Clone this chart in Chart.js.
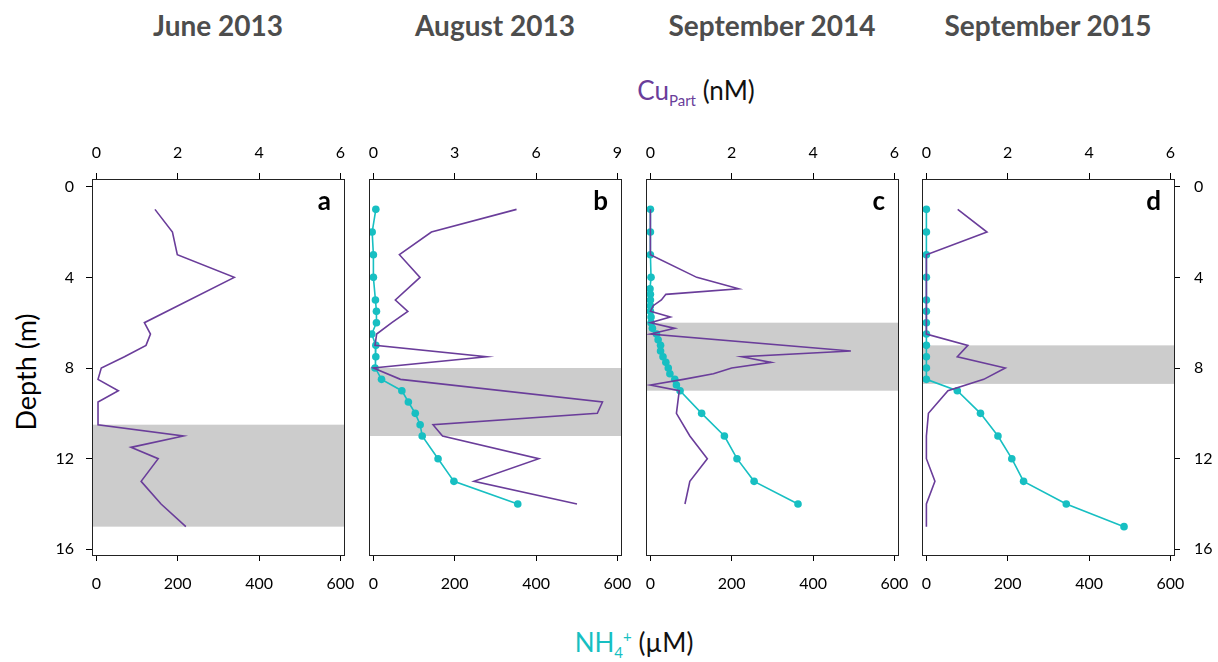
<!DOCTYPE html>
<html>
<head>
<meta charset="utf-8">
<script src="https://cdn.jsdelivr.net/npm/chart.js@4.4.1/dist/chart.umd.min.js"></script>
<style>
html,body{margin:0;padding:0;background:#fff;}
body{width:1218px;height:662px;position:relative;overflow:hidden;font-family:Lato,"Open Sans",sans-serif;}
canvas{position:absolute;top:120px;}
.title{position:absolute;top:8px;width:300px;text-align:center;font-weight:700;font-size:28px;color:#4d4d4d;line-height:34px;}
.lbl{position:absolute;font-size:26px;color:#111;white-space:nowrap;line-height:30px;text-align:center;width:300px;}
.lbl sub,.lbl sup{font-size:15px;line-height:0;}
#depth{position:absolute;left:25px;top:372px;transform:translate(-50%,-50%) rotate(-90deg);font-size:27px;color:#000;white-space:nowrap;}
</style>
</head>
<body>
<div class="title" style="left:68px">June 2013</div>
<div class="title" style="left:345px">August 2013</div>
<div class="title" style="left:622px">September 2014</div>
<div class="title" style="left:898px">September 2015</div>
<div class="lbl" style="left:546px;top:75px"><span style="color:#6a3d9a">Cu<sub>Part</sub></span> (nM)</div>
<div class="lbl" style="left:484px;top:627px"><span style="color:#17bfc2">NH<sub>4</sub><sup>+</sup></span> (µM)</div>
<div id="depth">Depth (m)</div>
<canvas id="ca" width="372" height="490" style="left:32px"></canvas>
<canvas id="cb" width="372" height="490" style="left:309px"></canvas>
<canvas id="cc" width="372" height="490" style="left:586px"></canvas>
<canvas id="cd" width="372" height="490" style="left:862px"></canvas>
<script>
// ---------- data ----------
const panelLetters = ['a', 'b', 'c', 'd'];
const depthTicks = [0, 4, 8, 12, 16];
const nhTicks = [0, 200, 400, 600];
const cuTicksA = [0, 2, 4, 6];
const cuTicksB = [0, 3, 6, 9];
const cuTicksC = [0, 2, 4, 6];
const cuTicksD = [0, 2, 4, 6];

// June 2013
const cuDepthA = [1, 2, 3, 4, 6, 6.5, 7, 7.5, 8, 8.5, 9, 9.5, 10.5, 11, 11.5, 12, 13, 14, 15];
const cuA = [1.44, 1.87, 1.99, 3.39, 1.18, 1.33, 1.22, 0.69, 0.12, 0.04, 0.54, 0.04, 0.04, 2.14, 0.85, 1.52, 1.10, 1.59, 2.2];
const bandA = [10.5, 15];

// August 2013
const cuDepthB = [1, 2, 3, 4, 5, 5.5, 6, 6.5, 7, 7.5, 8, 8.5, 9.5, 10, 10.5, 11, 12, 13, 14];
const cuB = [5.28, 2.14, 0.96, 1.72, 0.81, 1.27, 0.68, 0.12, 0.06, 4.17, 0.0, 1.0, 8.45, 8.26, 2.2, 2.55, 6.1, 3.71, 7.51];
const nhDepthB = [1, 2, 3, 4, 5, 5.5, 6, 6.5, 7, 7.5, 8, 8.5, 9, 9.5, 10, 10.5, 11, 12, 13, 14];
const nhB = [6, -3, 0, 0, 5, 7.5, 7.5, -4, 6, 6, 4, 20, 70, 86, 103, 115, 120, 159, 198, 355];
const bandB = [8, 11];

// September 2014
const cuDepthC = [1, 2, 3, 4, 4.5, 4.75, 5, 5.25, 5.5, 5.75, 6, 6.25, 6.5, 7.25, 7.5, 7.75, 8, 8.25, 8.5, 8.75, 9, 10, 11, 12, 13, 14];
const cuC = [0, 0, 0, 1.14, 2.17, 0.38, 0.27, 0.07, 0, 0.49, 0, 0.6, 0, 4.93, 2.25, 2.97, 2.0, 1.55, 0.81, 0, 0.71, 0.64, 0.97, 1.4, 0.97, 0.85];
const nhDepthC = [1, 2, 3, 4, 4.5, 4.75, 5, 5.25, 5.5, 5.75, 6, 6.25, 6.5, 6.75, 7, 7.25, 7.5, 7.75, 8, 8.25, 8.5, 8.75, 9, 10, 11, 12, 13, 14];
const nhC = [0, 0, 0, 1.6, -1, 0, 0, 0, 0, 1.6, 1.6, 5, 15, 19, 25, 25, 31, 38, 44, 48, 60, 64, 73, 126, 182, 213, 255, 363];
const bandC = [6, 9];

// September 2015
const cuDepthD = [1, 2, 3, 4, 5, 5.5, 6, 6.5, 7, 7.5, 8, 8.5, 9, 10, 11, 12, 13, 14, 15];
const cuD = [0.77, 1.49, 0, 0, 0, 0, 0, 0, 1.02, 0.76, 1.94, 1.41, 0.53, 0.05, 0, 0, 0.21, 0, 0];
const nhDepthD = [1, 2, 3, 4, 5, 5.5, 6, 6.5, 7, 7.5, 8, 8.5, 9, 10, 11, 12, 13, 14, 15];
const nhD = [0, 0, 0, 0, 0, 0, 0, 0, 0, 0, 0, 0, 76, 133, 176, 210, 239, 344, 486];
const bandD = [7, 8.7];

// ---------- styling ----------
const PURPLE = '#6a3d9a';
const TEAL = '#17bfc2';
const BAND = '#cccccc';
const TICKFONT = {family: 'Lato, "Open Sans", sans-serif', size: 16};

function pts(xs, ds) { return ds.map((d, i) => ({x: xs[i], y: d})); }

function rangeFor(ticks) {
  const r = ticks[ticks.length - 1] - ticks[0];
  return {min: ticks[0] - 0.018 * r, max: ticks[ticks.length - 1] + 0.0148 * r};
}

function gridOpts() {
  return {display: true, drawOnChartArea: false, drawTicks: true, tickLength: 6, color: '#000', lineWidth: 1};
}

function makePanel(canvasId, letter, cuTicks, cuDepth, cu, nhDepth, nh, band, yMode) {
  const datasets = [{
    data: pts(cu, cuDepth), xAxisID: 'x2', yAxisID: 'y', showLine: true,
    borderColor: PURPLE, backgroundColor: PURPLE, borderWidth: 1.6, pointRadius: 0, order: 0
  }];
  if (nh) {
    datasets.push({
      data: pts(nh, nhDepth), xAxisID: 'x', yAxisID: 'y', showLine: true,
      borderColor: TEAL, backgroundColor: TEAL, borderWidth: 1.6,
      pointRadius: 3.8, pointBorderWidth: 0, order: 1
    });
  }
  const nhR = rangeFor(nhTicks);
  const cuR = rangeFor(cuTicks);
  const panelPlugin = {
    id: 'panelDeco' + letter,
    beforeDatasetsDraw(chart) {
      const {ctx, chartArea: a, scales} = chart;
      const y0 = scales.y.getPixelForValue(band[0]);
      const y1 = scales.y.getPixelForValue(band[1]);
      ctx.save();
      ctx.fillStyle = BAND;
      ctx.fillRect(a.left, y0, a.right - a.left, y1 - y0);
      ctx.restore();
    },
    afterDraw(chart) {
      const {ctx, chartArea: a} = chart;
      ctx.save();
      ctx.strokeStyle = '#222';
      ctx.lineWidth = 1;
      ctx.strokeRect(Math.round(a.left) + 0.5, Math.round(a.top) + 0.5,
        Math.round(a.right - a.left), Math.round(a.bottom - a.top));
      ctx.fillStyle = '#000';
      ctx.font = 'bold 26px Lato, "Open Sans", sans-serif';
      ctx.textAlign = 'right';
      ctx.textBaseline = 'alphabetic';
      ctx.fillText(letter, a.right - 13, a.top + 31);
      ctx.restore();
    }
  };
  const showY = yMode !== 'none';
  return new Chart(document.getElementById(canvasId), {
    type: 'scatter',
    data: {datasets},
    options: {
      responsive: false, animation: false, devicePixelRatio: 1,
      layout: {padding: {left: yMode === 'left' ? 0 : 60, right: yMode === 'right' ? 0 : 60, top: 0, bottom: 0}},
      plugins: {legend: {display: false}, tooltip: {enabled: false}},
      scales: {
        x: {
          type: 'linear', position: 'bottom', min: nhR.min, max: nhR.max,
          afterBuildTicks: s => { s.ticks = nhTicks.map(v => ({value: v})); },
          afterFit: s => { s.height = 55; s.paddingLeft = 0; s.paddingRight = 0; },
          grid: gridOpts(), border: {display: false},
          ticks: {font: TICKFONT, color: '#000', padding: 13, maxRotation: 0, autoSkip: false}
        },
        x2: {
          type: 'linear', position: 'top', min: cuR.min, max: cuR.max,
          afterBuildTicks: s => { s.ticks = cuTicks.map(v => ({value: v})); },
          afterFit: s => { s.height = 59; s.paddingLeft = 0; s.paddingRight = 0; },
          grid: gridOpts(), border: {display: false},
          ticks: {font: TICKFONT, color: '#000', padding: 11, maxRotation: 0, autoSkip: false}
        },
        y: {
          type: 'linear', display: showY, position: yMode === 'right' ? 'right' : 'left',
          reverse: true, min: -0.34, max: 16.25,
          afterBuildTicks: s => { s.ticks = depthTicks.map(v => ({value: v})); },
          afterFit: s => { s.width = showY ? 60 : 0; s.paddingTop = 0; s.paddingBottom = 0; },
          grid: gridOpts(), border: {display: false},
          ticks: {font: TICKFONT, color: '#000', padding: yMode === 'right' ? 14 : 12, autoSkip: false}
        }
      }
    },
    plugins: [panelPlugin]
  });
}

makePanel('ca', panelLetters[0], cuTicksA, cuDepthA, cuA, null, null, bandA, 'left');
makePanel('cb', panelLetters[1], cuTicksB, cuDepthB, cuB, nhDepthB, nhB, bandB, 'none');
makePanel('cc', panelLetters[2], cuTicksC, cuDepthC, cuC, nhDepthC, nhC, bandC, 'none');
makePanel('cd', panelLetters[3], cuTicksD, cuDepthD, cuD, nhDepthD, nhD, bandD, 'right');
</script>
</body>
</html>
